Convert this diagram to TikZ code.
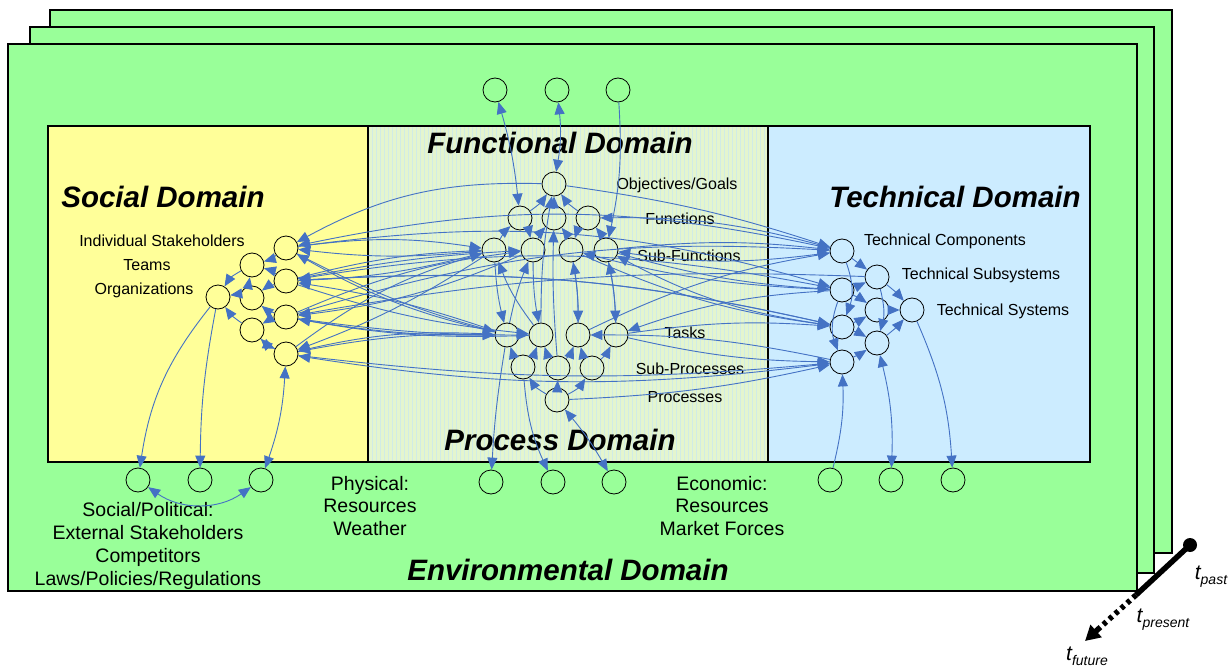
\documentclass[tikz,border=0pt]{standalone}
\usepackage{fontspec}
\setmainfont{Liberation Sans}
\usetikzlibrary{arrows.meta,calc}
\definecolor{envgreen}{HTML}{99FF99}
\definecolor{socyellow}{HTML}{FFFF99}
\definecolor{techblue}{HTML}{CCECFF}
\definecolor{midfill}{HTML}{E4F5CE}
\definecolor{gridblue}{HTML}{D0EBE6}
\definecolor{linkblue}{HTML}{4472C4}
\begin{document}
\begin{tikzpicture}[x=1pt,y=-1pt,
  elem/.style={circle,draw=black,line width=0.8pt,minimum size=24pt,inner sep=0pt},
  conn/.style={draw=linkblue,line width=0.9pt,-{Triangle[length=12pt,width=10pt]}},
  bconn/.style={draw=linkblue,line width=0.9pt,{Triangle[length=12pt,width=10pt]}-{Triangle[length=12pt,width=10pt]}},
  title/.style={font=\fontsize{29.5}{34}\selectfont\bfseries\itshape},
  lbl/.style={font=\fontsize{16}{19}\selectfont},
  envlbl/.style={font=\fontsize{19.5}{22.7}\selectfont,align=center},
  panel/.style={draw=black,line width=1.2pt},
  tlbl/.style={font=\fontsize{21}{24}\selectfont\itshape,inner sep=0pt},
]
\useasboundingbox (0,0) rectangle (1231,666);
% stacked environment sheets
\filldraw[panel,fill=envgreen] (50,10) rectangle (1172,553);
\filldraw[panel,fill=envgreen] (30,27) rectangle (1154,573);
\filldraw[panel,fill=envgreen] (8,44) rectangle (1137,591);
% domains
\fill[socyellow] (48,126) rectangle (368,462);
\fill[midfill] (368,126) rectangle (768,462);
\draw[gridblue,line width=0.3pt,step=4] (368,126) grid (768,462);
\fill[techblue] (768,126) rectangle (1090,462);
\draw[panel] (48,126) rectangle (1090,462);
\draw[panel] (368,126) -- (368,462) (768,126) -- (768,462);

% titles
\node[title] (tsoc) at (163,197) {Social Domain};
\node[title] (tfun) at (560,143) {Functional Domain};
\node[title] (ttec) at (955,197) {Technical Domain};
\node[title] (tpro) at (560,440) {Process Domain};
\node[title] (tenv) at (568,570) {Environmental Domain};

% labels
\node[lbl] (l1) at (162,241) {Individual Stakeholders};
\node[lbl] (l2) at (147,265) {Teams};
\node[lbl] (l3) at (144,290) {Organizations};
\node[lbl] (l4) at (677,185) {Objectives/Goals};
\node[lbl] (l5) at (680,219) {Functions};
\node[lbl] (l6) at (689,256) {Sub-Functions};
\node[lbl] (l7) at (685,333) {Tasks};
\node[lbl] (l8) at (690,369) {Sub-Processes};
\node[lbl] (l9) at (685,397) {Processes};
\node[lbl] (l10) at (945,241) {Technical Components};
\node[lbl] (l11) at (981,275) {Technical Subsystems};
\node[lbl] (l12) at (1003,311) {Technical Systems};
\node[envlbl] (l13) at (370,506) {Physical:\\Resources\\Weather};
\node[envlbl] (l14) at (722,506) {Economic:\\Resources\\Market Forces};
\node[envlbl] (l15) at (148,546) {Social/Political:\\External Stakeholders\\Competitors\\Laws/Policies/Regulations};

% social elements
\node[elem] (s1) at (286,248) {};
\node[elem] (s2) at (252,265) {};
\node[elem] (s3) at (286,281) {};
\node[elem] (s4) at (218,297) {};
\node[elem] (s5) at (252,298) {};
\node[elem] (s6) at (286,317) {};
\node[elem] (s7) at (252,330) {};
\node[elem] (s8) at (286,354) {};
% functional elements
\node[elem] (fa) at (554,184) {};
\node[elem] (fb1) at (520,218) {};
\node[elem] (fb2) at (554,218) {};
\node[elem] (fb3) at (588,218) {};
\node[elem] (fc1) at (494,250) {};
\node[elem] (fc2) at (533,250) {};
\node[elem] (fc3) at (571,250) {};
\node[elem] (fc4) at (606,250) {};
% process elements
\node[elem] (pa1) at (507,335) {};
\node[elem] (pa2) at (541,335) {};
\node[elem] (pa3) at (578,335) {};
\node[elem] (pa4) at (616,335) {};
\node[elem] (pb1) at (523,367) {};
\node[elem] (pb2) at (558,368) {};
\node[elem] (pb3) at (592,368) {};
\node[elem] (pc) at (557,400) {};
% technical elements
\node[elem] (ta1) at (842,251) {};
\node[elem] (ta2) at (842,290) {};
\node[elem] (ta3) at (842,327) {};
\node[elem] (ta4) at (842,362) {};
\node[elem] (tb1) at (877,277) {};
\node[elem] (tb2) at (877,310) {};
\node[elem] (tb3) at (877,343) {};
\node[elem] (tc) at (912,310) {};
% outer elements
\node[elem] (u1) at (495,90) {};
\node[elem] (u2) at (557,90) {};
\node[elem] (u3) at (618,90) {};
\node[elem] (e1) at (138,480) {};
\node[elem] (e2) at (200,480) {};
\node[elem] (e3) at (261,480) {};
\node[elem] (e4) at (491,482) {};
\node[elem] (e5) at (553,482) {};
\node[elem] (e6) at (614,482) {};
\node[elem] (e7) at (830,480) {};
\node[elem] (e8) at (891,480) {};
\node[elem] (e9) at (953,480) {};

% connectors
\foreach \a/\b/\c in {
  s1/s2/10, s3/s2/-10, s5/s2/10, s5/s4/-10, s2/s4/-15, s7/s4/10, s7/s8/-10,
  s6/s5/10, s3/s5/-10, s8/s7/10, s6/s7/-10,
  s1/fc1/8, s1/pa1/-6, s3/fc1/6, s3/pa2/-6, s6/fc2/8, s6/pa1/-5, s8/pa1/6,
  s8/fc1/10, s1/ta2/12, s3/ta3/8, s6/ta1/10, s8/ta4/-6, s3/fc2/4, s6/pa2/-4,
  fc1/s1/6, pa1/s1/8, fc1/s3/6, pa1/s3/-5, pa2/s6/6, fc2/s6/8, pa1/s8/-8,
  fc1/s8/6, fa/s1/-15, ta1/s1/-12, ta3/s3/-8, tb1/s6/-6, ta4/s8/8, ta2/s3/-10,
  fb1/fa/-10, fb3/fa/10, fb2/fa/0, fc1/fb1/10, fc2/fb2/10, fc3/fb2/-10,
  fc4/fb3/-10, fb1/fc2/10, fb3/fc3/-10,
  pa2/fa/5, pa1/fc2/5, pa3/fc3/-5, pa2/fc1/8, pa4/fc4/-5, pb2/fb2/3,
  fc1/pa1/-5, fc2/pa2/-5, fc3/pa3/5, fc4/pa4/5,
  pb1/pa1/10, pb1/pa2/-10, pb2/pa2/10, pb2/pa3/-10, pb3/pa3/10, pb3/pa4/-10,
  pc/pb1/15, pc/pb2/0, pc/pb3/-15,
  fc4/ta1/6, fc4/ta2/-6, fc3/ta3/-8, pa4/ta3/6, pa4/ta4/-6, pa3/ta1/8,
  fa/ta1/5, pc/ta4/-5, ta1/fc4/8, ta2/pa4/-8, ta3/fc4/10, ta4/pa3/-6,
  ta2/fc3/6, ta1/fb3/-8,
  ta1/tb1/0, ta2/tb1/-5, ta2/tb2/5, ta3/tb2/-5, ta3/tb3/5, ta4/tb3/-5,
  tb1/tc/5, tb2/tc/0, tb3/tc/-5, ta1/ta3/20, ta2/ta4/-20, tb1/tb3/15,
  s4/e1/-15, s4/e2/-5, pa1/e4/-3, pb1/e5/-10, tc/e9/10, e7/ta4/-8, u3/fc4/8}
  \draw[conn] (\a) to[bend left=\c] (\b);
\foreach \a/\b/\c in {s8/e3/8, e1/e3/-35, pc/e6/5, tb3/e8/8, fb1/u1/-5, u2/fa/8}
  \draw[bconn] (\a) to[bend left=\c] (\b);

% time axis
\coordinate (tp) at (1190,545);
\coordinate (tn) at (1136,595);
\coordinate (tf) at (1085,641);
\coordinate (tm) at ($(tn)!0.7!(tf)$);
\fill[black] (tp) circle (7);
\draw[line width=5.5pt] (tp) -- (tn);
\draw[line width=5.5pt,dash pattern=on 4pt off 4pt] (tn) -- (tm);
\draw[line width=5.5pt,-{Triangle[length=15pt,width=16pt]}] (tm) -- (tf);
\node[tlbl] (tpl) at (1211,577) {t\raisebox{-5pt}{\fontsize{14}{14}\selectfont past}};
\node[tlbl] (tnl) at (1163,620) {t\raisebox{-5pt}{\fontsize{14}{14}\selectfont present}};
\node[tlbl] (tfl) at (1087,656) {t\raisebox{-5pt}{\fontsize{14}{14}\selectfont future}};
\end{tikzpicture}
\end{document}
